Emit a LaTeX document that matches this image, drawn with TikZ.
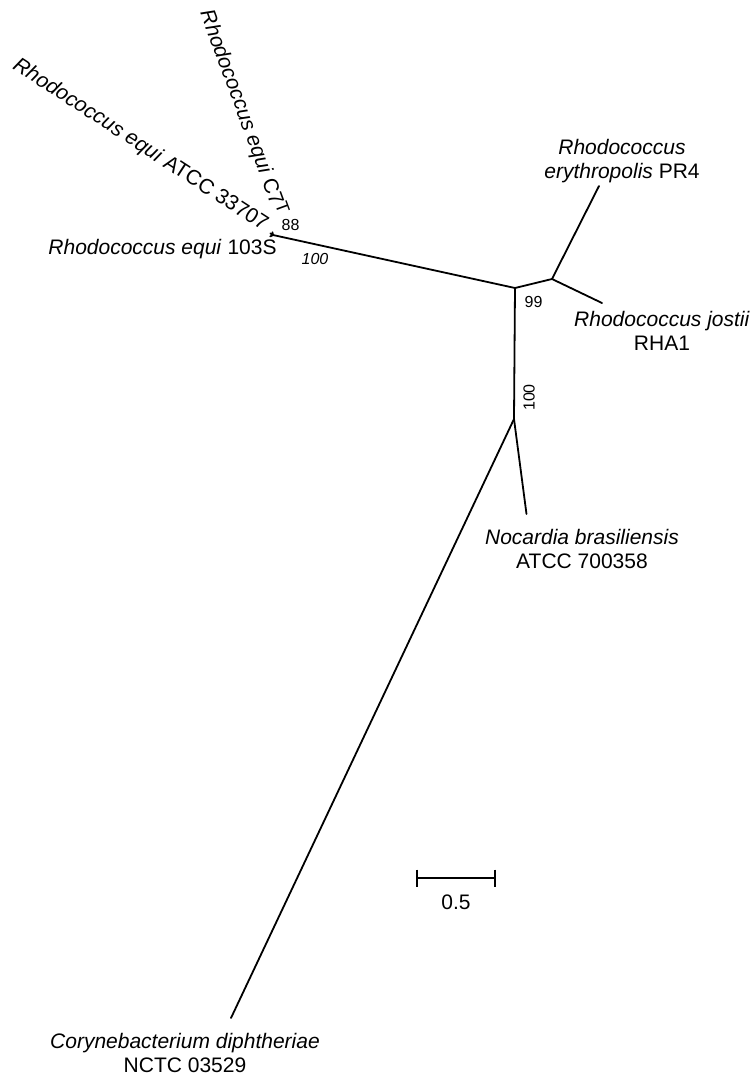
\documentclass[tikz,border=0pt]{standalone}
\usepackage{fontspec}
\setmainfont{Liberation Sans}
\begin{document}
\begin{tikzpicture}[x=0.5pt,y=-0.5pt,
  br/.style={line width=0.9pt, line cap=round, line join=round},
  taxon/.style={font=\fontsize{10.5}{11.8}\selectfont, inner sep=0pt, align=center},
  boot/.style={font=\fontsize{8}{9.6}\selectfont, inner sep=0pt}]
\useasboundingbox (0,0) rectangle (755,1083);
% internal nodes
\coordinate (E) at (273,235);
\coordinate (A) at (515,288);
\coordinate (B) at (552,279);
\coordinate (C) at (514,419);
% tips
\coordinate (tAtcc) at (270.4,233.4);
\coordinate (tC7) at (272.4,232.2);
\coordinate (t103) at (270.2,236.4);
\coordinate (tEry) at (599,186);
\coordinate (tJos) at (602,303);
\coordinate (tNoc) at (526.5,514);
\coordinate (tCor) at (231,1018);
% branches
\draw[br] (E) -- (A);
\draw[br] (E) -- (tAtcc);
\draw[br] (E) -- (tC7);
\draw[br] (E) -- (t103);
\draw[br] (A) -- (B);
\draw[br] (B) -- (tEry);
\draw[br] (B) -- (tJos);
\draw[br] (A) -- (C);
\draw[br] (C) -- (tNoc);
\draw[br] (C) -- (tCor);
% taxon labels
\node[taxon, anchor=base east, rotate=-33] (lAtcc) at (263,231.5) {\textit{Rhodococcus equi} ATCC 33707};
\node[taxon, anchor=base east, rotate=-70] (lC7) at (275,217) {\textit{Rhodococcus equi} C7\raisebox{0.35ex}{\fontsize{9}{10}\selectfont T}};
\node[taxon, anchor=base] (l103) at (162.5,254.5) {\textit{Rhodococcus equi} 103S};
\node[taxon] (lEry) at (622,161) {\textit{Rhodococcus}\\\textit{erythropolis} PR4};
\node[taxon] (lJos) at (662,331) {\textit{Rhodococcus jostii}\\RHA1};
\node[taxon] (lNoc) at (582,549) {\textit{Nocardia brasiliensis}\\ATCC 700358};
\node[taxon] (lCor) at (185,1053) {\textit{Corynebacterium diphtheriae}\\NCTC 03529};
% bootstrap values
\node[boot] (b88) at (290.5,224.5) {88};
\node[boot] (b100a) at (315,258.5) {\textit{100}};
\node[boot] (b99) at (533.5,302) {99};
\node[boot, rotate=90] (b100b) at (529,397.5) {100};
% scale bar
\coordinate (s1) at (417,878);
\coordinate (s2) at (495,878);
\draw[br, line cap=butt] (s1) -- (s2);
\draw[br, line cap=butt] (s1) ++(0,-8.5) -- ++(0,17);
\draw[br, line cap=butt] (s2) ++(0,-8.5) -- ++(0,17);
\node[taxon] (sl) at (456,902) {0.5};
\end{tikzpicture}
\end{document}
